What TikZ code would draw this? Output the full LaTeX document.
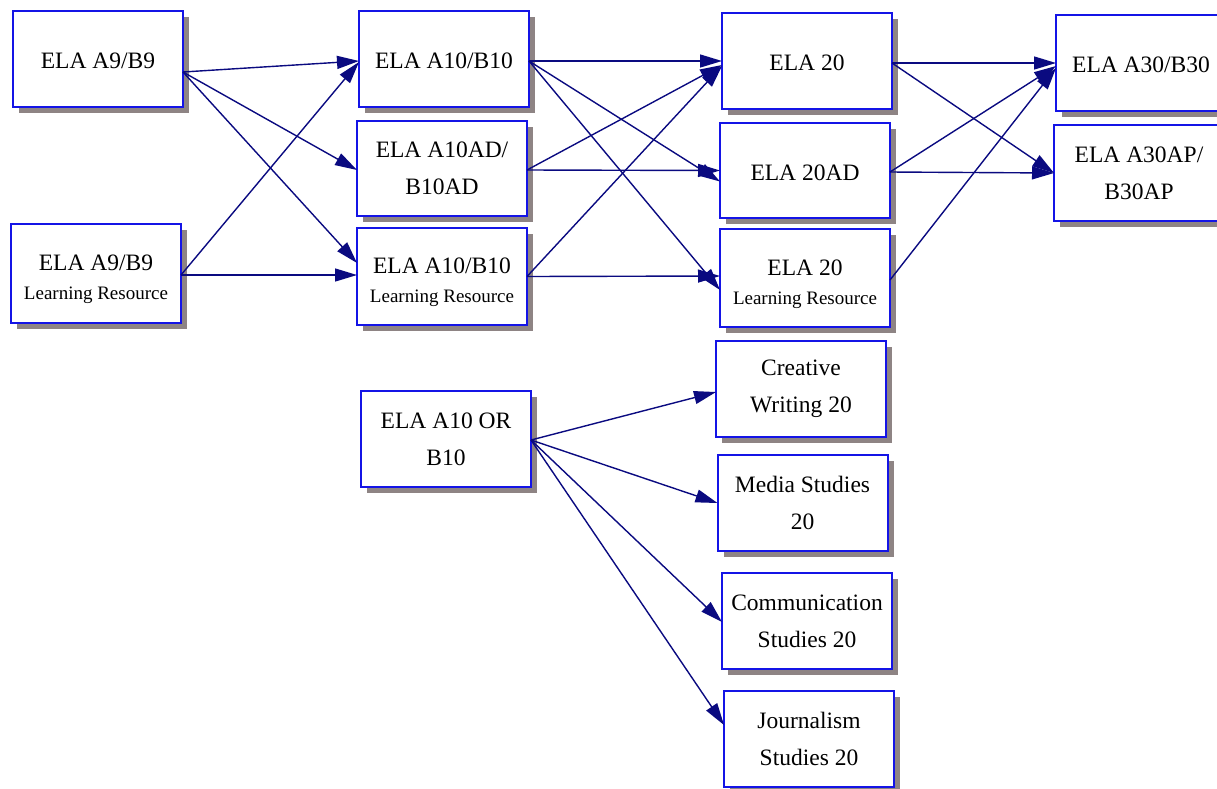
\documentclass[tikz,border=0pt]{standalone}
\usepackage{fontspec}
\setmainfont{Liberation Serif}
\usetikzlibrary{arrows.meta,shadows}
\definecolor{boxblue}{RGB}{20,20,230}
\definecolor{linknavy}{RGB}{10,10,128}
\definecolor{shadowgray}{RGB}{142,132,132}
\tikzset{
  box/.style={draw=boxblue, line width=2pt, fill=white,
    minimum width=170pt, minimum height=96pt, inner sep=0pt, outer sep=0pt,
    align=center, font=\fontsize{23.5}{37}\selectfont,
    drop shadow={shadow xshift=6pt, shadow yshift=-6pt, fill=shadowgray, opacity=1}},
  lrbox/.style={box, font=\fontsize{23.5}{29}\selectfont},
  conn/.style={draw=linknavy, line width=1.4pt, -{Triangle[length=22pt,width=13pt]}},
}
\newcommand{\lrtext}[1]{\rule{0pt}{28pt}#1\\{\fontsize{19}{20}\selectfont Learning Resource}}
\begin{document}
\begin{tikzpicture}[x=1pt, y=-1pt]
\useasboundingbox (0,0) rectangle (1217,788);
\clip (0,0) rectangle (1217,788);
% column 1
\node[box]   (a9)   at (98,59)     {\rule{0pt}{20pt}ELA A9/B9};
\node[lrbox, minimum height=99pt] (a9lr) at (96,273.5) {\lrtext{ELA A9/B9}};
% column 2
\node[box]   (a10)   at (444,59)    {\rule{0pt}{20pt}ELA A10/B10};
\node[box, minimum height=95pt] (a10ad) at (442,168.5) {ELA A10AD/\\B10AD};
\node[lrbox, minimum height=97pt] (a10lr) at (442,276.5) {\lrtext{ELA A10/B10}};
% column 3
\node[box]   (e20)   at (807,61)    {\rule{0pt}{20pt}ELA 20};
\node[box, minimum height=95pt] (e20ad) at (805,170.5) {\rule{0pt}{20pt}ELA 20AD};
\node[lrbox, minimum height=98pt] (e20lr) at (805,278) {\lrtext{ELA 20}};
% column 4
\node[box]   (a30)   at (1141,63)   {\rule{0pt}{20pt}ELA A30/B30};
\node[box]   (a30ap) at (1139,173)  {ELA A30AP/\\B30AP};
% lower group
\node[box]   (aorb)  at (446,439)   {ELA A10 OR\\B10};
\node[box]   (cw)    at (801,389)   {Creative\\Writing 20};
\node[box]   (ms)    at (802.5,503) {Media Studies\\20};
\node[box]   (cs)    at (807,621)   {Communication\\Studies 20};
\node[box]   (js)    at (809,739)   {Journalism\\Studies 20};
% connectors column 1 -> 2
\draw[conn] ([yshift=-13pt]a9.east) -- ([yshift=-2pt]a10.west);
\draw[conn] ([yshift=-13pt]a9.east) -- ([yshift=-1.5pt]a10ad.west);
\draw[conn] ([yshift=-13pt]a9.east) -- ([yshift=13.5pt]a10lr.west);
\draw[conn] ([yshift=-1.5pt]a9lr.east) -- ([yshift=-3pt]a10.west);
\draw[conn] ([yshift=-1.5pt]a9lr.east) -- ([yshift=1.5pt]a10lr.west);
% connectors column 2 -> 3
\draw[conn] ([yshift=-2pt]a10.east) -- (e20.west);
\draw[conn] ([yshift=-2pt]a10.east) -- ([yshift=-11pt]e20ad.west);
\draw[conn] ([yshift=-2pt]a10.east) -- ([yshift=-12pt]e20lr.west);
\draw[conn] ([yshift=-1.5pt]a10ad.east) -- ([yshift=-4pt]e20.west);
\draw[conn] ([yshift=-1.5pt]a10ad.east) -- (e20ad.west);
\draw[conn] (a10lr.east) -- ([yshift=-5pt]e20.west);
\draw[conn] (a10lr.east) -- ([yshift=2pt]e20lr.west);
% connectors column 3 -> 4
\draw[conn] ([yshift=-2pt]e20.east) -- (a30.west);
\draw[conn] ([yshift=-2pt]e20.east) -- (a30ap.west);
\draw[conn] ([yshift=-1.5pt]e20ad.east) -- ([yshift=-3pt]a30.west);
\draw[conn] ([yshift=-1.5pt]e20ad.east) -- (a30ap.west);
\draw[conn] ([yshift=-2pt]e20lr.east) -- ([yshift=-5pt]a30.west);
% lower group connectors
\draw[conn] ([yshift=-1pt]aorb.east) -- ([yshift=-3pt]cw.west);
\draw[conn] ([yshift=-1pt]aorb.east) -- (ms.west);
\draw[conn] ([yshift=-1pt]aorb.east) -- ([yshift=-1pt]cs.west);
\draw[conn] ([yshift=-1pt]aorb.east) -- ([yshift=14pt]js.west);
\end{tikzpicture}
\end{document}
